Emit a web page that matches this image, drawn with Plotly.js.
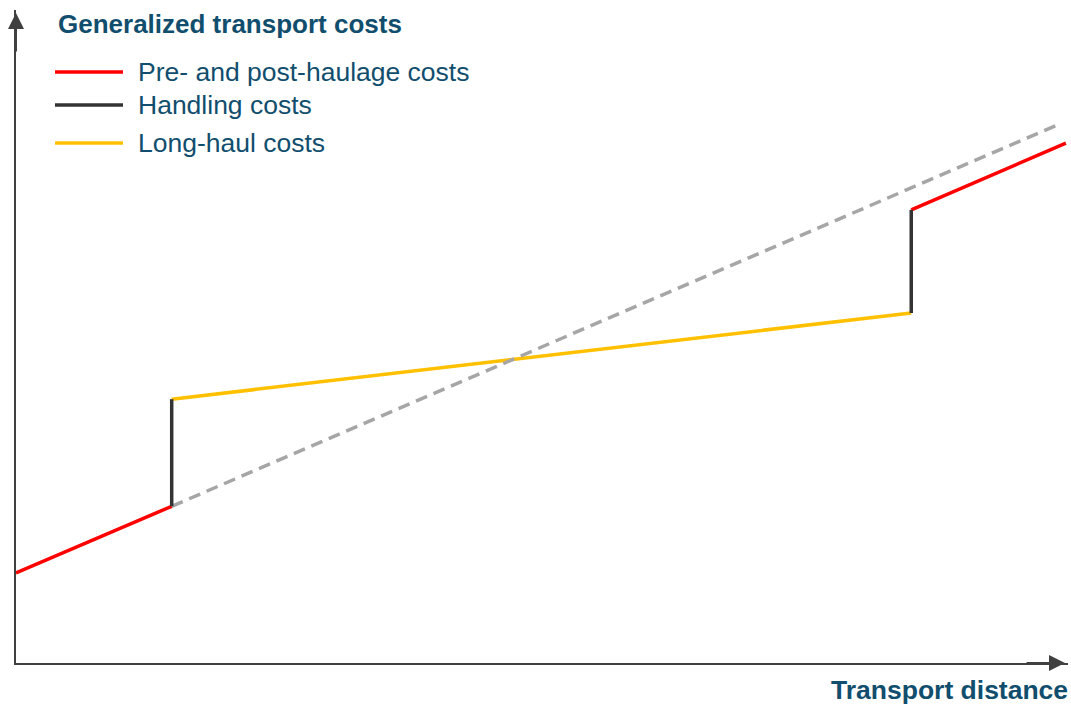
<!DOCTYPE html>
<html>
<head>
<meta charset="utf-8">
<script src="https://cdn.plot.ly/plotly-3.0.1.min.js"></script>
<style>
  html, body { margin: 0; padding: 0; background: #ffffff; }
  #chart { width: 1071px; height: 704px; }
</style>
</head>
<body>
<div id="chart"></div>
<script>
// ---- Data (transport distance vs generalized cost, arbitrary units 0-100) ----
const seriesNames = ["Pre- and post-haulage costs", "Handling costs", "Long-haul costs"];
const chartTitle = "Generalized transport costs";
const xAxisTitle = "Transport distance";

const prePostDistance = [0, 14.8, null, 85.1, 99.8];
const prePostCost     = [13.8, 24.0, null, 69.4, 79.6];

const handlingDistance = [14.8, 14.8, null, 85.1, 85.1];
const handlingCost     = [24.0, 40.4, null, 53.6, 69.4];

const longHaulDistance = [14.8, 85.1];
const longHaulCost     = [40.4, 53.6];

const directDistance = [14.8, 99.0];
const directCost     = [24.0, 82.4];

// ---- Styles ----
const colors = { prePost: "#FF0000", handling: "#333333", longHaul: "#FFC000", direct: "#A6A6A6" };
const textColor = "#114E6E";
const axisColor = "#404040";
const fontFamily = "Liberation Sans, Arial, sans-serif";
const lw = 3.5;

const traces = [
  { x: longHaulDistance, y: longHaulCost, mode: "lines", name: seriesNames[2],
    line: { color: colors.longHaul, width: lw }, showlegend: false, hoverinfo: "skip" },
  { x: directDistance, y: directCost, mode: "lines", name: "Direct transport",
    line: { color: colors.direct, width: lw, dash: "12px,7px" }, showlegend: false, hoverinfo: "skip" },
  { x: prePostDistance, y: prePostCost, mode: "lines", name: seriesNames[0],
    line: { color: colors.prePost, width: lw }, showlegend: false, connectgaps: false, hoverinfo: "skip" },
  { x: handlingDistance, y: handlingCost, mode: "lines", name: seriesNames[1],
    line: { color: colors.handling, width: lw }, showlegend: false, connectgaps: false, hoverinfo: "skip" }
];

// plot area: x 16..1068 px, y 10..663 px
const W = 1052, H = 653, L = 16, T = 10;
const px = v => (v - L) / W;
const py = v => (T + H - v) / H;

const legendRows = [72, 105, 143];
const legendColors = [colors.prePost, colors.handling, colors.longHaul];

const shapes = legendRows.map((r, i) => ({
  type: "line", xref: "paper", yref: "paper",
  x0: px(55), x1: px(123), y0: py(r), y1: py(r),
  line: { color: legendColors[i], width: lw }
}));

const annotations = [
  { text: "<b>" + chartTitle + "</b>", xref: "paper", yref: "paper",
    x: px(56), y: py(24), xanchor: "left", yanchor: "middle", showarrow: false,
    font: { family: fontFamily, size: 26, color: textColor } },
  { text: "<b>" + xAxisTitle + "</b>", xref: "paper", yref: "paper",
    x: px(1070), y: py(690), xanchor: "right", yanchor: "middle", showarrow: false,
    font: { family: fontFamily, size: 26.5, color: textColor } },
  // axis arrowheads
  { x: px(1065), y: 0, xref: "paper", yref: "paper", ax: -40, ay: 0, axref: "pixel", ayref: "pixel",
    text: "", showarrow: true, arrowhead: 2, arrowsize: 1.6, arrowwidth: 2, arrowcolor: axisColor },
  { x: 0, y: py(13), xref: "paper", yref: "paper", ax: 0, ay: 40, axref: "pixel", ayref: "pixel",
    text: "", showarrow: true, arrowhead: 2, arrowsize: 1.6, arrowwidth: 2, arrowcolor: axisColor }
].concat(legendRows.map((r, i) => ({
  text: seriesNames[i], xref: "paper", yref: "paper",
  x: px(136), y: py(r), xanchor: "left", yanchor: "middle", showarrow: false,
  font: { family: fontFamily, size: 26.5, color: textColor }
})));

const layout = {
  width: 1071, height: 704,
  margin: { l: L, r: 1071 - L - W, t: T, b: 704 - T - H, pad: 0 },
  paper_bgcolor: "#ffffff", plot_bgcolor: "#ffffff",
  showlegend: false,
  xaxis: { range: [0, 100], showgrid: false, zeroline: false, showticklabels: false, ticks: "",
           showline: true, linecolor: axisColor, linewidth: 2, fixedrange: true },
  yaxis: { range: [0, 100], showgrid: false, zeroline: false, showticklabels: false, ticks: "",
           showline: true, linecolor: axisColor, linewidth: 2, fixedrange: true },
  shapes: shapes,
  annotations: annotations,
  font: { family: fontFamily }
};

Plotly.newPlot("chart", traces, layout, { staticPlot: true, displayModeBar: false });
</script>
</body>
</html>
